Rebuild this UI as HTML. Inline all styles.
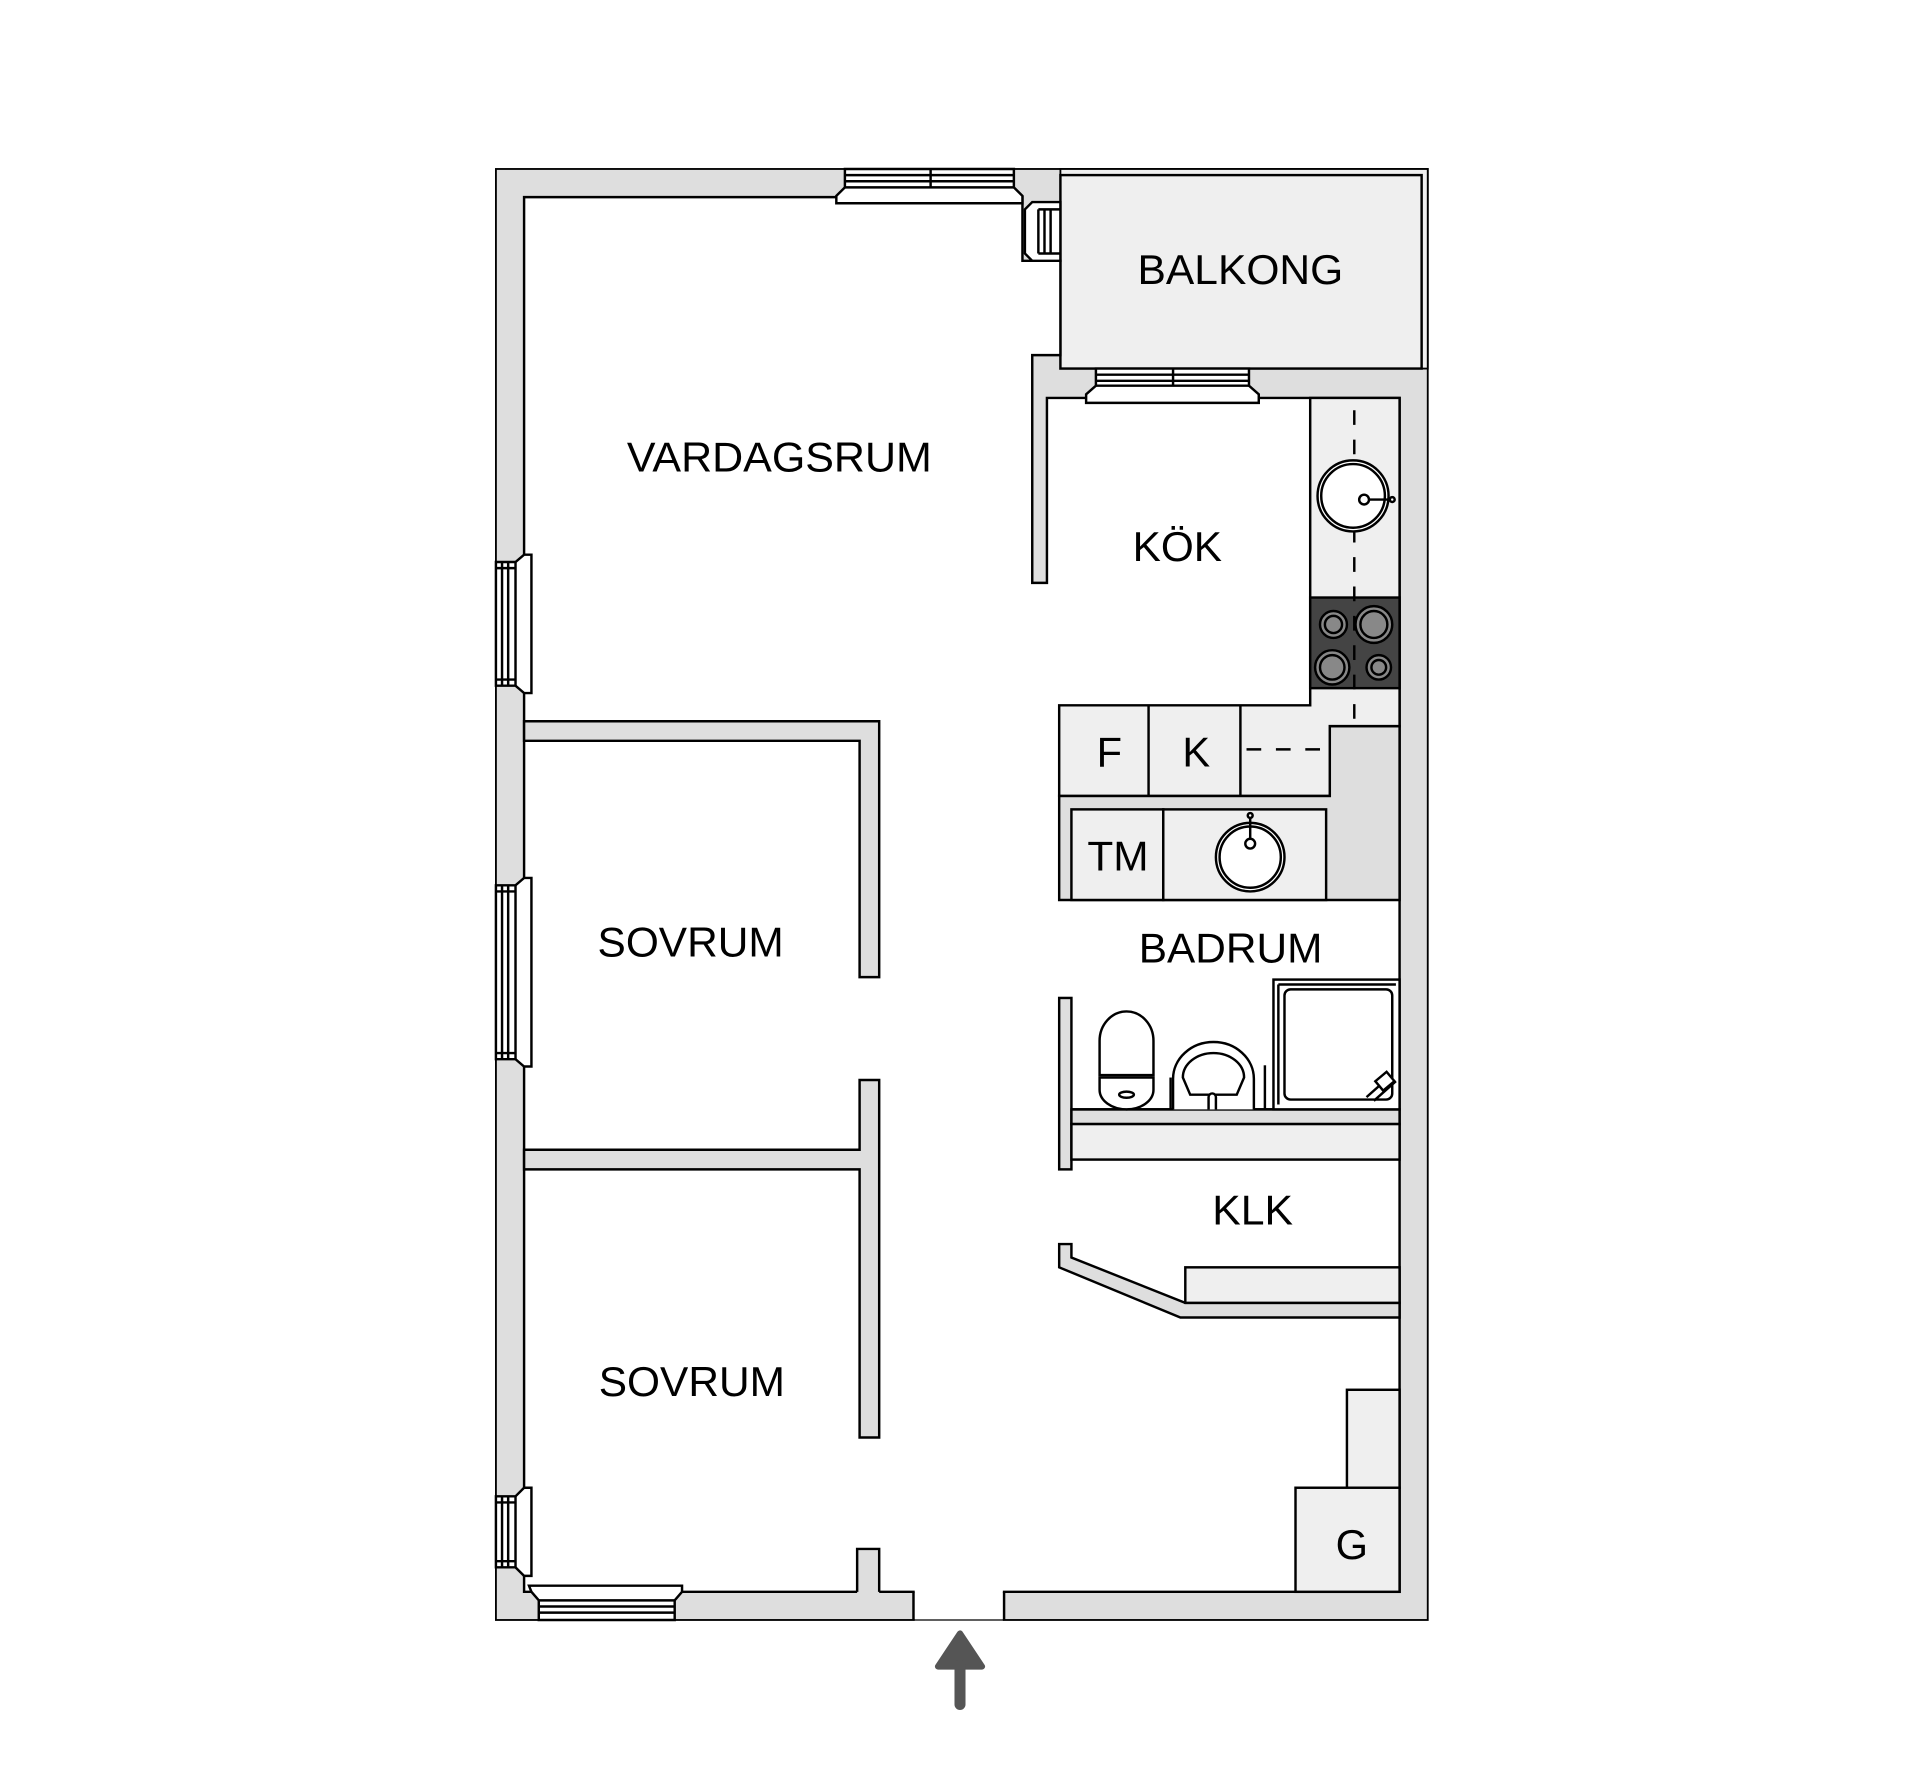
<!DOCTYPE html>
<html><head><meta charset="utf-8"><style>
html,body{margin:0;padding:0;background:#fff;}
svg{display:block;}
text{font-family:"Liberation Sans",sans-serif;fill:#000;}
</style></head><body>
<svg width="1920" height="1787" viewBox="0 0 1568 1459.4" xmlns="http://www.w3.org/2000/svg">
<g stroke="#000" stroke-width="2" stroke-linejoin="miter">
<!-- outer gray -->
<rect x="405" y="138" width="761" height="1185" fill="#dedede" stroke-width="1.5"/>
<!-- balcony -->
<rect x="866" y="138" width="300" height="163" fill="#efefef" stroke-width="1.5"/>
<rect x="866" y="143" width="295" height="158" fill="#efefef"/>
<!-- main white -->
<polygon points="428,161 835,161 835,213 866,213 866,290 843,290 843,476 855,476 855,325 1143,325 1143,1300 428,1300" fill="#fff"/>
<!-- walls vardagsrum/sovrum -->
<polygon points="428,589 718,589 718,798 702,798 702,605 428,605" fill="#dedede"/>
<polygon points="702,882 718,882 718,1174 702,1174 702,955 428,955 428,939 702,939" fill="#dedede"/>
<!-- bottom stub -->
<rect x="700" y="1265" width="18" height="37" fill="#dedede" stroke="none"/>
<polyline points="700,1300 700,1265 718,1265 718,1300" fill="none"/>
<!-- entrance -->
<rect x="747" y="1298" width="72" height="27" fill="#fff" stroke="none"/>
<line x1="746" y1="1300" x2="746" y2="1323"/>
<line x1="820" y1="1300" x2="820" y2="1323"/>
<line x1="746" y1="1323" x2="820" y2="1323" stroke-width="1"/>
<!-- kitchen / bath block gray -->
<polygon points="865,650 1086,650 1086,593 1143,593 1143,735 865,735" fill="#dedede"/>
<polygon points="1070,325 1143,325 1143,593 1086,593 1086,650 865,650 865,576 1070,576" fill="#efefef"/>
<line x1="938" y1="576" x2="938" y2="650"/>
<line x1="1013" y1="576" x2="1013" y2="650"/>
<rect x="875" y="661" width="75" height="74" fill="#efefef"/>
<rect x="950" y="661" width="133" height="74" fill="#efefef"/>
<!-- stove -->
<rect x="1070" y="488" width="73" height="74" fill="#444"/>
</g>
<g stroke="#000" stroke-width="2" fill="none" stroke-dasharray="12,12">
<line x1="1106" y1="335" x2="1106" y2="590"/>
<line x1="1018" y1="612" x2="1082" y2="612"/>
</g>
<g stroke="#000" fill="#888" stroke-width="2">
<circle cx="1089" cy="510" r="11"/><circle cx="1089" cy="510" r="7"/>
<circle cx="1122" cy="510" r="15"/><circle cx="1122" cy="510" r="11"/>
<circle cx="1088" cy="545" r="14"/><circle cx="1088" cy="545" r="10"/>
<circle cx="1126" cy="545" r="10"/><circle cx="1126" cy="545" r="6"/>
</g>
<!-- sinks -->
<g stroke="#000" stroke-width="2" fill="#fff">
<circle cx="1105" cy="405" r="29"/><circle cx="1105" cy="405" r="26"/>
<line x1="1114" y1="408" x2="1136" y2="408"/><circle cx="1114" cy="408" r="4"/><circle cx="1137" cy="408" r="2"/>
<circle cx="1021" cy="700" r="28"/><circle cx="1021" cy="700" r="25"/>
<line x1="1021" y1="668" x2="1021" y2="688"/><circle cx="1021" cy="689" r="4"/><circle cx="1021" cy="666" r="2"/>
</g>
<!-- bathroom -->
<g stroke="#000" stroke-width="2">
<rect x="865" y="815" width="10" height="140" fill="#dedede"/>
<rect x="875" y="906" width="268" height="12" fill="#dedede"/>
<rect x="875" y="918" width="268" height="29" fill="#efefef"/>
<line x1="875" y1="906" x2="1143" y2="906"/>
<rect x="1040" y="800" width="103" height="106" fill="#fff"/>
<line x1="1044" y1="804" x2="1044" y2="902"/>
<line x1="1044" y1="804" x2="1140" y2="804"/>
<rect x="1049" y="808" width="88" height="90" rx="5" fill="#fff"/>
<path d="M1116,896 l18,-16 M1122,899 l18,-16" fill="none"/>
<rect x="1125" y="878" width="12" height="10" fill="#fff" transform="rotate(-40 1131 883)"/>
<!-- toilet -->
<path d="M898,850 a22,24 0 0 1 44,0 v28 h-44 z" fill="#fff"/>
<path d="M898,880 h44 v10 a22,16 0 0 1 -44,0 z" fill="#fff"/>
<ellipse cx="920" cy="894" rx="6" ry="2.5" fill="#fff"/>
<line x1="956" y1="906" x2="956" y2="880" />
<!-- basin -->
<path d="M958,906 v-25 a33,30 0 0 1 66,0 v25" fill="#fff"/>
<path d="M966,880 a25,20 0 0 1 50,0 l-6,14 h-38 z" fill="none"/>
<path d="M987,906 v-10 a3,3 0 0 1 6,0 v10" fill="#fff"/>
<line x1="1033" y1="906" x2="1033" y2="870"/>
<!-- KLK -->
<polygon points="865,1016 875,1016 875,1027 968,1064 1143,1064 1143,1076 964,1076 865,1035" fill="#dedede"/>
<rect x="968" y="1035" width="175" height="29" fill="#efefef"/>
<!-- bottom right cabinets -->
<rect x="1100" y="1135" width="43" height="80" fill="#efefef"/>
<rect x="1058" y="1215" width="85" height="85" fill="#efefef"/>
</g>
<!-- windows -->
<g stroke="#000" stroke-width="2" fill="#fff">
<!-- top -->
<polygon points="690,138 828,138 828,153 835,160 835,166 683,166 683,160 690,153"/>
<path d="M690,143 H828 M690,148 H828 M690,153 H828 M760,138 V153" fill="none"/>
<!-- corner vertical -->
<polygon points="866,165 866,213 843,213 837,207 837,171 843,165"/>
<path d="M848,171 V207 M853,171 V207 M858,171 V207 M848,171 H866 M848,207 H866" fill="none"/>
<!-- kitchen -->
<polygon points="895,301 1020,301 1020,315 1028,322 1028,329 887,329 887,322 895,315"/>
<path d="M895,306 H1020 M895,311 H1020 M895,315 H1020 M958,301 V315" fill="none"/>
<!-- left windows -->
<polygon points="405,459 421,459 428,453 434,453 434,566 428,566 421,560 405,560"/>
<path d="M410,459 V560 M415,459 V560 M421,459 V560 M405,464 H421 M405,555 H421" fill="none"/>
<polygon points="405,723 421,723 428,717 434,717 434,871 428,871 421,865 405,865"/>
<path d="M410,723 V865 M415,723 V865 M421,723 V865 M405,728 H421 M405,860 H421" fill="none"/>
<polygon points="405,1222 421,1222 428,1215 434,1215 434,1287 428,1287 421,1280 405,1280"/>
<path d="M410,1222 V1280 M415,1222 V1280 M421,1222 V1280 M405,1227 H421 M405,1275 H421" fill="none"/>
<!-- bottom window -->
<polygon points="432,1295 557,1295 557,1300 551,1307 551,1323 440,1323 440,1307 434,1300"/>
<path d="M440,1307 H551 M440,1312 H551 M440,1317 H551" fill="none"/>
</g>
<!-- arrow -->
<g fill="#555" stroke="#555" stroke-linejoin="round" stroke-linecap="round">
<polygon points="784,1334 802,1361 766,1361" stroke-width="5"/>
<line x1="784" y1="1360" x2="784" y2="1392" stroke-width="9"/>
</g>
<!-- labels -->
<g font-size="34">
<text x="929" y="232" textLength="168" lengthAdjust="spacingAndGlyphs">BALKONG</text>
<text x="512" y="385" textLength="249" lengthAdjust="spacingAndGlyphs">VARDAGSRUM</text>
<text x="925" y="458" textLength="73" lengthAdjust="spacingAndGlyphs">KÖK</text>
<text x="906" y="626" text-anchor="middle">F</text>
<text x="977" y="626" text-anchor="middle">K</text>
<text x="888" y="711" textLength="50" lengthAdjust="spacingAndGlyphs">TM</text>
<text x="930" y="786" textLength="150" lengthAdjust="spacingAndGlyphs">BADRUM</text>
<text x="488" y="781" textLength="152" lengthAdjust="spacingAndGlyphs">SOVRUM</text>
<text x="489" y="1140" textLength="152" lengthAdjust="spacingAndGlyphs">SOVRUM</text>
<text x="990" y="1000" textLength="66" lengthAdjust="spacingAndGlyphs">KLK</text>
<text x="1104" y="1273" text-anchor="middle">G</text>
</g>
</svg>
</body></html>
